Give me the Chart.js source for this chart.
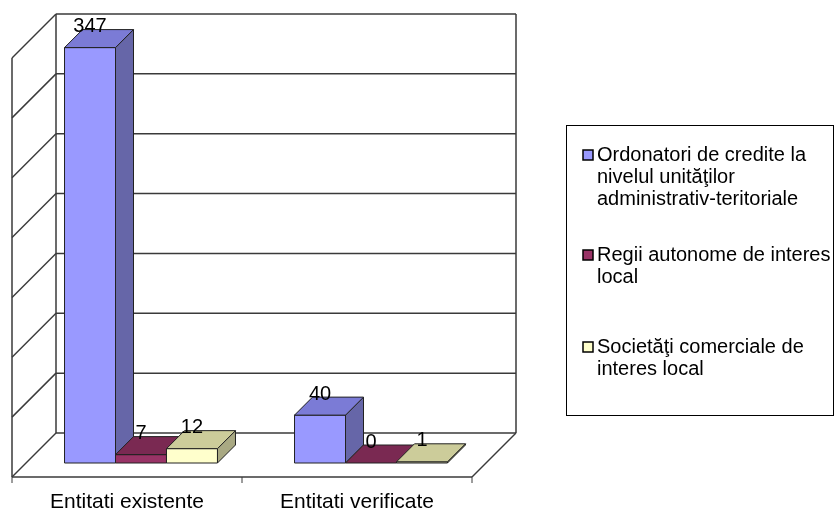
<!DOCTYPE html>
<html>
<head>
<meta charset="utf-8">
<script src="https://cdn.jsdelivr.net/npm/chart.js@4/dist/chart.umd.min.js"></script>
<style>
    body { margin: 0; background: #fff; }
    #wrap { width: 835px; height: 511px; position: relative; }
</style>
</head>
<body>
<div id="wrap"><canvas id="chart"></canvas></div>
<script>
// Data
const categories = ['Entitati existente', 'Entitati verificate'];
const seriesNames = [
    'Ordonatori de credite la nivelul unităţilor administrativ-teritoriale',
    'Regii autonome de interes local',
    'Societăţi comerciale de interes local'
];
const ordonatori = [347, 40];
const regii = [7, 0];
const societati = [12, 1];
const yTicks = [0, 50, 100, 150, 200, 250, 300, 350];

// 3D look: front / top / side colours per series
const faceColors = [
    { front: '#9999FF', top: '#7B7BD6', side: '#6666A8' },
    { front: '#993366', top: '#7A2952', side: '#5E2040' },
    { front: '#FFFFCC', top: '#CCCC9A', side: '#A9A983' }
];

const BAR_DEPTH = 18;    // depth of each bar
const FRONT_GAP = 14;    // floor edge in front of the bars
const BACK_GAP = 30;     // back wall behind the bar front faces
const FAMILY = "'Liberation Sans', Arial, sans-serif";
const LINE = '#3a3a3a';

function shift(x, y, d) {
    return [x + d, y - d];
}

function line(ctx, a, b) {
    ctx.beginPath();
    ctx.moveTo(a[0], a[1]);
    ctx.lineTo(b[0], b[1]);
    ctx.stroke();
}

function poly(ctx, pts, fill) {
    ctx.beginPath();
    ctx.moveTo(pts[0][0], pts[0][1]);
    for (let i = 1; i < pts.length; i++) ctx.lineTo(pts[i][0], pts[i][1]);
    ctx.closePath();
    ctx.fillStyle = fill;
    ctx.fill();
    ctx.stroke();
}

const wallsPlugin = {
    id: 'walls',
    beforeDatasetsDraw(chart) {
        const ctx = chart.ctx;
        const area = chart.chartArea;
        const y = chart.scales.y;
        const L = area.left, R = area.right, B = area.bottom, T = area.top;
        ctx.save();
        ctx.strokeStyle = LINE;
        ctx.lineWidth = 1.5;

        // back wall grid + left wall diagonals
        yTicks.forEach(t => {
            const py = y.getPixelForValue(t);
            line(ctx, shift(L, py, BACK_GAP), shift(R, py, BACK_GAP));
            line(ctx, shift(L, py, BACK_GAP), shift(L, py, -FRONT_GAP));
        });
        // wall edges
        line(ctx, shift(L, T, BACK_GAP), shift(L, B, BACK_GAP));
        line(ctx, shift(L, T, -FRONT_GAP), shift(L, B, -FRONT_GAP));
        line(ctx, shift(R, T, BACK_GAP), shift(R, B, BACK_GAP));
        // floor front edge and right edge
        line(ctx, shift(L, B, -FRONT_GAP), shift(R, B, -FRONT_GAP));
        line(ctx, shift(R, B, -FRONT_GAP), shift(R, B, BACK_GAP));

        // category ticks
        ctx.lineWidth = 1;
        const catW = (R - L) / categories.length;
        for (let i = 0; i <= categories.length; i++) {
            const p = shift(L + i * catW, B, -FRONT_GAP);
            line(ctx, p, [p[0], p[1] + 6]);
        }

        // category labels
        ctx.fillStyle = '#000';
        ctx.font = '21px ' + FAMILY;
        ctx.textAlign = 'center';
        ctx.textBaseline = 'middle';
        categories.forEach((c, i) => {
            const p = shift(L + (i + 0.5) * catW, B, -FRONT_GAP);
            ctx.fillText(c, p[0], p[1] + 25);
        });
        ctx.restore();
    },
    afterDatasetsDraw(chart) {
        const ctx = chart.ctx;
        const d = BAR_DEPTH;
        // collect bars and draw left to right
        const bars = [];
        chart.data.datasets.forEach((ds, di) => {
            chart.getDatasetMeta(di).data.forEach((el, i) => {
                bars.push({ el: el, di: di, value: ds.data[i] });
            });
        });
        bars.sort((a, b) => a.el.x - b.el.x);

        ctx.save();
        ctx.strokeStyle = '#222';
        ctx.lineWidth = 1;
        ctx.lineJoin = 'round';
        bars.forEach(b => {
            const el = b.el;
            const c = faceColors[b.di];
            const l = el.x - el.width / 2, r = el.x + el.width / 2;
            const top = el.y, base = el.base;
            if (base - top > 0.5) {
                poly(ctx, [[l, top], [r, top], [r, base], [l, base]], c.front);
                poly(ctx, [[r, top], [r + d, top - d], [r + d, base - d], [r, base]], c.side);
            }
            poly(ctx, [[l, top], [r, top], [r + d, top - d], [l + d, top - d]], c.top);
        });

        // value labels
        ctx.fillStyle = '#000';
        ctx.font = '20px ' + FAMILY;
        ctx.textAlign = 'center';
        ctx.textBaseline = 'middle';
        bars.forEach(b => {
            ctx.fillText(String(b.value), b.el.x, b.el.y - d - 3);
        });
        ctx.restore();
    },
    afterDraw(chart) {
        const ctx = chart.ctx;
        ctx.save();
        // legend box
        ctx.strokeStyle = '#000';
        ctx.lineWidth = 1;
        ctx.strokeRect(566.5, 125.5, 267, 290);
        ctx.font = '20px ' + FAMILY;
        ctx.textAlign = 'left';
        ctx.textBaseline = 'middle';
        const itemY = [155, 255, 347];
        seriesNames.forEach((name, i) => {
            // wrap words to the box width
            const words = name.split(' ');
            const lines = [];
            let cur = '';
            words.forEach(w => {
                const test = cur ? cur + ' ' + w : w;
                if (ctx.measureText(test).width > 238 && cur) {
                    lines.push(cur);
                    cur = w;
                } else {
                    cur = test;
                }
            });
            lines.push(cur);
            const y0 = itemY[i];
            ctx.fillStyle = faceColors[i].front;
            ctx.fillRect(583, y0 - 5, 10, 10);
            ctx.strokeStyle = '#000';
            ctx.lineWidth = 1.5;
            ctx.strokeRect(583, y0 - 5, 10, 10);
            ctx.fillStyle = '#000';
            lines.forEach((t, k) => ctx.fillText(t, 597, y0 + k * 22));
        });
        ctx.restore();
    }
};

const ctx = document.getElementById('chart').getContext('2d');
new Chart(ctx, {
    type: 'bar',
    data: {
        labels: categories,
        datasets: [
            { label: seriesNames[0], data: ordonatori, backgroundColor: 'rgba(0,0,0,0)' },
            { label: seriesNames[1], data: regii, backgroundColor: 'rgba(0,0,0,0)' },
            { label: seriesNames[2], data: societati, backgroundColor: 'rgba(0,0,0,0)' }
        ]
    },
    options: {
        responsive: true,
        maintainAspectRatio: false,
        animation: false,
        layout: {
            padding: { left: 26, right: 349, top: 44, bottom: 48 }
        },
        datasets: {
            bar: {
                barPercentage: 1.0,
                categoryPercentage: 0.665
            }
        },
        plugins: {
            legend: { display: false },
            tooltip: { enabled: false }
        },
        scales: {
            x: { display: false },
            y: {
                display: false,
                min: 0,
                max: 350,
                ticks: { stepSize: 50 }
            }
        }
    },
    plugins: [wallsPlugin]
});
</script>
</body>
</html>
